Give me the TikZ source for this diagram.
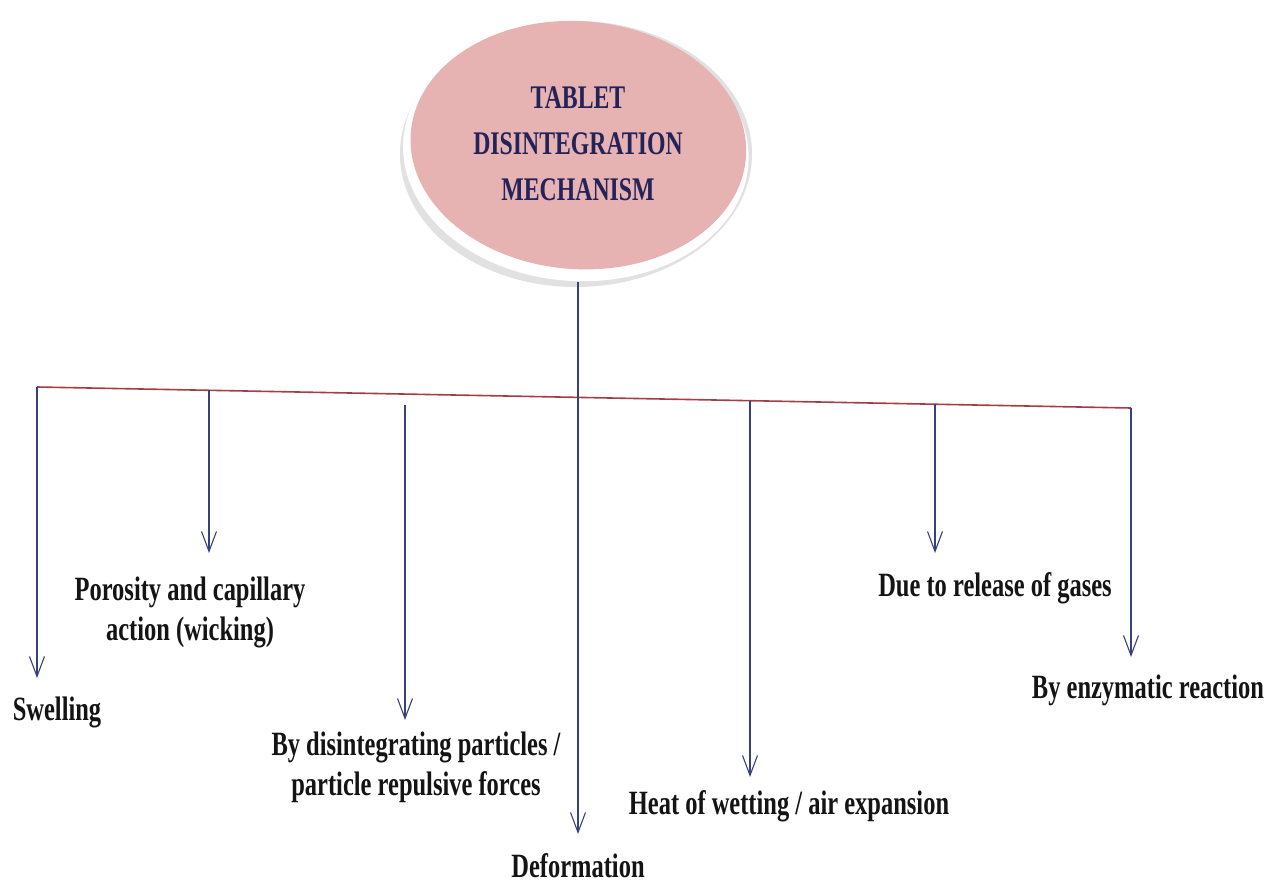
\documentclass[tikz,border=0pt]{standalone}
\usepackage{fontspec}
\usetikzlibrary{arrows.meta}
\newfontfamily\labfont{Liberation Serif}[FakeStretch=0.72]
\definecolor{pinkfill}{RGB}{230,178,178}
\definecolor{rimgray}{RGB}{205,205,205}
\definecolor{arrowblue}{RGB}{55,65,125}
\definecolor{barred}{RGB}{165,60,70}
\definecolor{titlenavy}{RGB}{35,35,90}
\definecolor{labtext}{RGB}{20,20,20}
\begin{document}
\begin{tikzpicture}[x=1bp,y=-1bp,
  lab/.style={font=\labfont\bfseries\fontsize{34bp}{40bp}\selectfont, text=labtext, align=center, inner sep=0pt},
  ttl/.style={font=\labfont\bfseries\fontsize{33bp}{46bp}\selectfont, text=titlenavy, align=center, inner sep=0pt},
  arr/.style={draw=arrowblue, line width=1.1bp, -{Straight Barb[length=20bp,width=15bp,line width=1.1bp]}},
  bar/.style={draw=barred, line width=1.6bp}
]
\useasboundingbox (0,0) rectangle (1267,886);
\fill[white] (0,0) rectangle (1267,886);
% ellipse with rim and shadow
\fill[rimgray!60] (576,154) ellipse [x radius=176, y radius=133];
\fill[white, rotate around={-4:(576,150)}] (576,152) ellipse [x radius=173, y radius=129];
\fill[pinkfill, rotate around={-4:(576,150)}] (578,145) ellipse [x radius=168, y radius=124];
\node[ttl] (title) at (578,144) {TABLET\\DISINTEGRATION\\MECHANISM};
\coordinate (ebot) at (578,282);
% labels
\node[lab] (swell) at (57,712) {Swelling};
\node[lab] (poro) at (190,612) {Porosity and capillary\\action (wicking)};
\node[lab] (disin) at (416,767) {By disintegrating particles /\\particle repulsive forces};
\node[lab] (deform) at (578,866) {Deformation};
\node[lab] (heat) at (789,806) {Heat of wetting / air expansion};
\node[lab] (gas) at (995,588) {Due to release of gases};
\node[lab] (enz) at (1148,690) {By enzymatic reaction};
% branch points
\coordinate (b1) at (37,387);
\coordinate (b2) at (209,390.3);
\coordinate (b3) at (405,405);
\coordinate (b4) at (578,397.4);
\coordinate (b5) at (750,400.7);
\coordinate (b6) at (935,404.2);
\coordinate (b7) at (1131,408);
% tips
\coordinate (t1) at (37,678);
\coordinate (t2) at (209,553);
\coordinate (t3) at (405,720);
\coordinate (t4) at (578,834);
\coordinate (t5) at (750,777);
\coordinate (t6) at (935,553);
\coordinate (t7) at (1131,657);
% horizontal bar
\draw[bar] (b1) -- (b7);
% arrows
\draw[arr] (ebot) -- (t4);
\draw[arr] (b1) -- (t1);
\draw[arr] (b2) -- (t2);
\draw[arr] (b3) -- (t3);
\draw[arr] (b5) -- (t5);
\draw[arr] (b6) -- (t6);
\draw[arr] (b7) -- (t7);
\end{tikzpicture}
\end{document}
